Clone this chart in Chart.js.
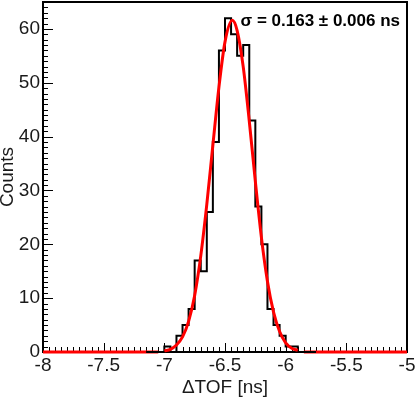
<!DOCTYPE html>
<html>
<head>
<meta charset="utf-8">
<script src="https://cdn.jsdelivr.net/npm/chart.js@4.4.1/dist/chart.umd.min.js"></script>
<style>
html,body{margin:0;padding:0;background:#fff;}
canvas{display:block;}
</style>
</head>
<body>
<canvas id="c" width="415" height="397"></canvas>
<script>
// ---- data ----
const binLowEdges = [-7.15,-7.10,-7.05,-7.00,-6.95,-6.90,-6.85,-6.80,-6.75,-6.70,-6.65,-6.60,-6.55,-6.50,-6.45,-6.40,-6.35,-6.30,-6.25,-6.20,-6.15,-6.10,-6.05,-6.00,-5.95,-5.90,-5.85,-5.80];
const binCounts   = [0,0,0,1,0,3,5,8,17,15,26,39,56,62,59,55,57,43,27,20,8,5,3,1,1,0,0,0];
const histUpperEdge = -5.75;

const fitX = [-7.00,-6.95,-6.90,-6.85,-6.80,-6.75,-6.70,-6.65,-6.60,-6.55,-6.50,-6.44,-6.40,-6.35,-6.30,-6.25,-6.20,-6.15,-6.10,-6.05,-6.00,-5.95,-5.90];
const fitY = [0.2,0.5,1.3,2.8,5.7,10.5,17.8,27.4,38.4,49.2,57.6,61.6,59.7,53.0,42.9,31.7,21.3,13.1,7.4,3.8,1.7,0.7,0.3];
const fitTailX = [-8,-7.05,null,-5.85,-5];
const fitTailY = [0,0,null,0,0];

const xTickValues = [-8,-7.5,-7,-6.5,-6,-5.5,-5];
const xTickLabels = ['-8','-7.5','-7','-6.5','-6','-5.5','-5'];
const yTickValues = [0,10,20,30,40,50,60];
const yTickLabels = ['0','10','20','30','40','50','60'];
const xTitle = 'ΔTOF [ns]';
const yTitle = 'Counts';
const fitLabel = 'σ = 0.163 ± 0.006 ns';

// ---- build datasets ----
const histPoints = binLowEdges.map((e,i)=>({x:e,y:binCounts[i]}));
histPoints.push({x:histUpperEdge,y:0});
const fitPoints = fitX.map((v,i)=>({x:v,y:fitY[i]}));
const tailPoints = fitTailX.map((v,i)=>(v===null?{x:-6.5,y:null}:{x:v,y:fitTailY[i]}));

const FONT = '"Liberation Sans", Arial, Helvetica, sans-serif';

const framePlugin = {
  id:'frame',
  beforeDatasetsDraw(chart){
    const {ctx, chartArea:a, scales:{x,y}} = chart;
    ctx.save();
    ctx.strokeStyle='#000';
    ctx.lineWidth=2;
    ctx.strokeRect(a.left, a.top, a.right-a.left, a.bottom-a.top);
    ctx.lineWidth=1;
    ctx.beginPath();
    const nx = Math.round((x.max-x.min)/0.05);
    for(let i=0;i<=nx;i++){
      const v = x.min + i*0.05;
      const px = Math.round(x.getPixelForValue(v))+0.5;
      const len = (i%10===0)?9:5;
      ctx.moveTo(px,a.bottom); ctx.lineTo(px,a.bottom-len);
    }
    for(let v=0; v<=y.max; v++){
      const py = Math.round(y.getPixelForValue(v))+0.5;
      const len = (v%10===0)?10:5;
      ctx.moveTo(a.left,py); ctx.lineTo(a.left+len,py);
    }
    ctx.stroke();
    ctx.restore();
  },
  afterDraw(chart){
    const {ctx} = chart;
    ctx.save();
    ctx.fillStyle='#000';
    ctx.font='bold 17px '+FONT;
    ctx.textAlign='right';
    ctx.textBaseline='alphabetic';
    ctx.fillText(fitLabel, 400, 26);
    ctx.restore();
  }
};

new Chart(document.getElementById('c'), {
  type:'line',
  data:{
    datasets:[
      {data:fitPoints, borderColor:'#ff0000', borderWidth:3, pointRadius:0, cubicInterpolationMode:'monotone', fill:false, clip:false, order:1},
      {data:histPoints, borderColor:'#000', borderWidth:2, pointRadius:0, stepped:true, fill:false, clip:false, order:2},
      {data:tailPoints, borderColor:'#ff0000', borderWidth:3, pointRadius:0, fill:false, clip:false, spanGaps:false, order:3}
    ]
  },
  options:{
    responsive:false,
    animation:false,
    devicePixelRatio:1,
    layout:{padding:{top:2,right:8,left:0,bottom:0}},
    plugins:{legend:{display:false},tooltip:{enabled:false}},
    scales:{
      x:{
        type:'linear', min:-8, max:-5,
        grid:{display:false, drawTicks:false},
        border:{display:false},
        afterBuildTicks(s){ s.ticks = xTickValues.map(v=>({value:v})); },
        afterFit(s){ s.height = 45; s.paddingLeft = 0; s.paddingRight = 0; },
        ticks:{
          autoSkip:false, maxRotation:0, padding:3, color:'#1a1a1a',
          font:{family:FONT,size:19,lineHeight:1.1},
          callback(v){ const i = xTickValues.indexOf(v); return i>=0?xTickLabels[i]:''; }
        },
        title:{display:true, text:xTitle, color:'#1a1a1a', font:{family:FONT,size:19,lineHeight:1}, padding:{top:0,bottom:0}}
      },
      y:{
        type:'linear', min:0, max:65,
        grid:{display:false, drawTicks:false},
        border:{display:false},
        afterBuildTicks(s){ s.ticks = yTickValues.map(v=>({value:v})); },
        afterFit(s){ s.width = 43; s.paddingTop = 0; s.paddingBottom = 0; },
        ticks:{
          autoSkip:false, padding:3, color:'#1a1a1a',
          font:{family:FONT,size:19},
          callback(v){ const i = yTickValues.indexOf(v); return i>=0?yTickLabels[i]:''; }
        },
        title:{display:true, text:yTitle, color:'#1a1a1a', font:{family:FONT,size:19,lineHeight:1}, padding:{top:-2,bottom:0}}
      }
    }
  },
  plugins:[framePlugin]
});
</script>
</body>
</html>
